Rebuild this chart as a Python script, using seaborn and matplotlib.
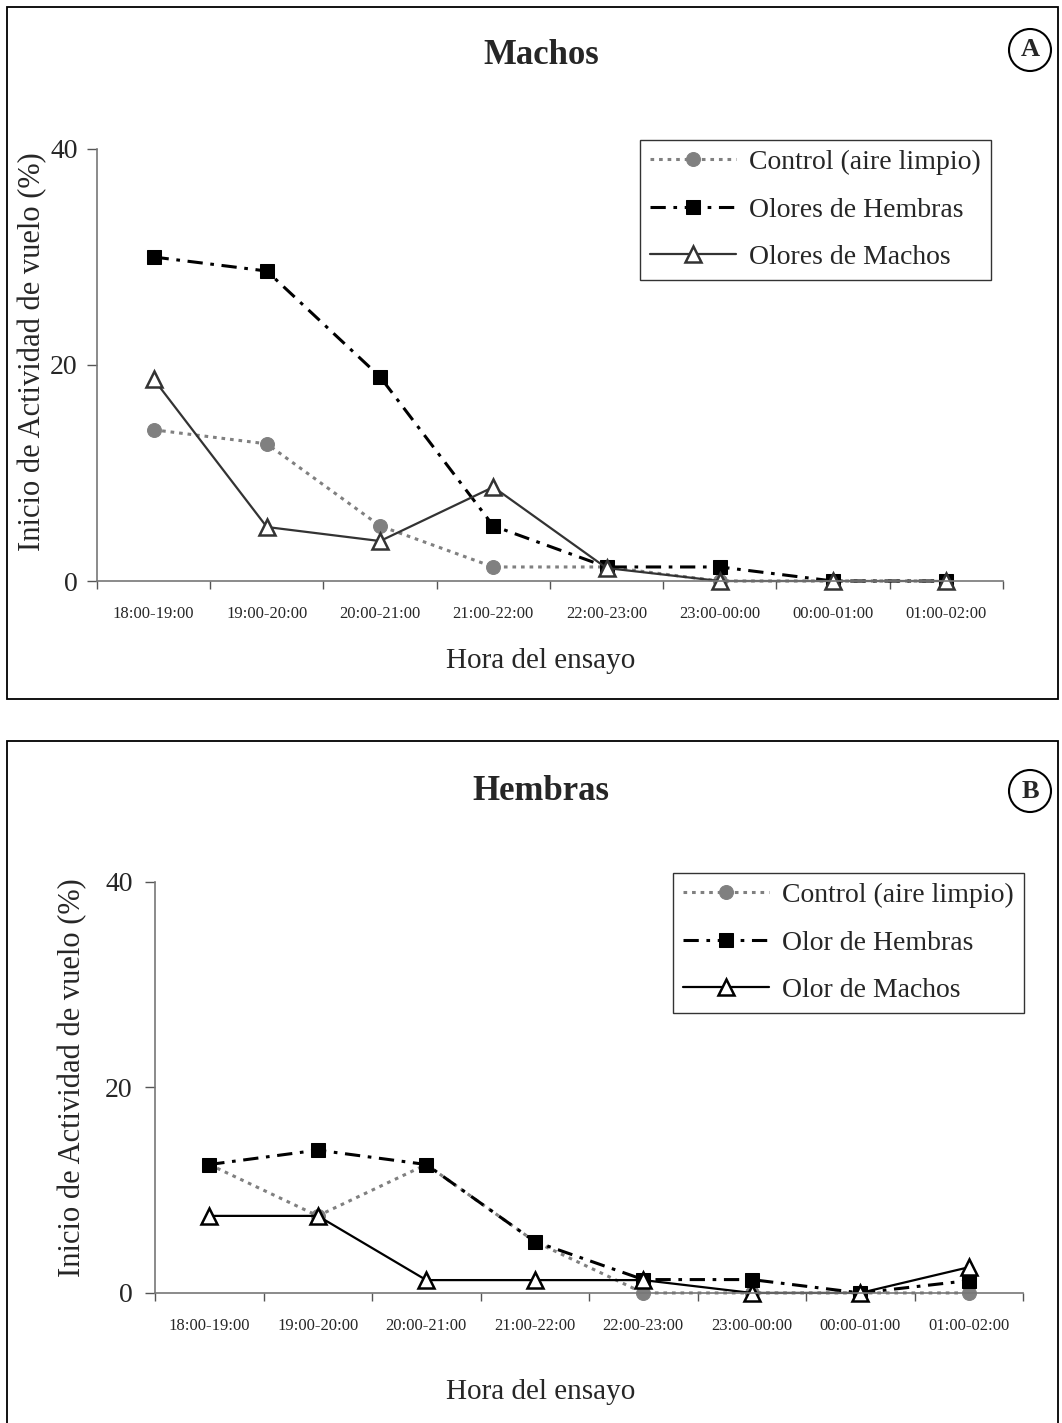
import matplotlib
matplotlib.use("Agg")
import matplotlib.pyplot as plt
import matplotlib.patches as mpatches
import seaborn as sns

# data
hours = ["18:00-19:00", "19:00-20:00", "20:00-21:00", "21:00-22:00",
         "22:00-23:00", "23:00-00:00", "00:00-01:00", "01:00-02:00"]

a_control = [14.0, 12.7, 5.1, 1.3, 1.3, 0, 0, 0]
a_hembras = [30.0, 28.7, 18.9, 5.1, 1.3, 1.3, 0, 0]
a_machos = [18.7, 5.0, 3.7, 8.7, 1.2, 0, 0, 0]

b_control = [12.5, 7.5, 12.5, 5.0, 0, 0, 0, 0]
b_hembras = [12.5, 13.9, 12.5, 5.0, 1.3, 1.3, 0, 1.2]
b_machos = [7.5, 7.5, 1.25, 1.25, 1.25, 0, 0, 2.5]

y_ticks = [0, 20, 40]

sns.set_style("ticks")
plt.rcParams['font.family'] = ['Liberation Serif', 'DejaVu Serif']

fig = plt.figure(figsize=(10.62, 14.23), dpi=100)

# panel frames
for (x0, y0, w, h) in [(0.0066, 0.5088, 0.9896, 0.4863), (0.0066, -0.02, 0.9896, 0.4993)]:
    fig.patches.append(mpatches.Rectangle((x0, y0), w, h, transform=fig.transFigure,
                                          fill=False, ec="black", lw=1.3))

axA = fig.add_axes([0.0913, 0.5917, 0.8531, 0.3036])
axB = fig.add_axes([0.1460, 0.0914, 0.8173, 0.2888])


def draw(ax, control, hembras, machos, labels, machos_col, ysize, ypad):
    sns.lineplot(x=hours, y=control, ax=ax, sort=False, color="#808080",
                 linestyle=(0, (1.2, 1.6)), lw=2.2, marker="o", markersize=10,
                 markeredgecolor="#808080", markerfacecolor="#808080",
                 clip_on=False, label=labels[0])
    sns.lineplot(x=hours, y=hembras, ax=ax, sort=False, color="black",
                 linestyle=(0, (5, 2.5, 1.2, 2.5)), lw=2.2, marker="s", markersize=10,
                 markeredgecolor="black", markerfacecolor="black",
                 clip_on=False, label=labels[1])
    sns.lineplot(x=hours, y=machos, ax=ax, sort=False, color=machos_col,
                 linestyle="-", lw=1.6, marker="^", markersize=11,
                 markeredgecolor=machos_col, markerfacecolor="white", markeredgewidth=1.8,
                 clip_on=False, label=labels[2])
    ax.set_xlim(-0.5, len(hours) - 0.5)
    ax.set_ylim(0, 40)
    ax.set_yticks(y_ticks)
    ax.set_xticks([i - 0.5 for i in range(len(hours) + 1)], minor=True)
    ax.tick_params(axis="x", which="major", length=0, pad=18, labelsize=12)
    ax.tick_params(axis="x", which="minor", length=6, color="#555555", width=1)
    ax.tick_params(axis="y", length=7, color="#555555", labelsize=ysize, width=1, pad=ypad)
    for s in ["top", "right"]:
        ax.spines[s].set_visible(False)
    for s in ["left", "bottom"]:
        ax.spines[s].set_color("#777777")
        ax.spines[s].set_linewidth(1.2)
    ax.set_xlabel("")
    ax.set_ylabel("")


draw(axA, a_control, a_hembras, a_machos,
     ["Control (aire limpio)", "Olores de Hembras", "Olores de Machos"], "#333333", 20, 7)
draw(axB, b_control, b_hembras, b_machos,
     ["Control (aire limpio)", "Olor de Hembras", "Olor de Machos"], "black", 20, 9)

for ax, anchor in [(axA, (0.6026, 0.9016)), (axB, (0.6337, 0.3865))]:
    leg = ax.legend(loc="upper left", bbox_to_anchor=anchor, bbox_transform=fig.transFigure,
                    fontsize=20, frameon=True, fancybox=False, edgecolor="#333333",
                    handlelength=3.1, handletextpad=0.48, labelspacing=0.79,
                    borderpad=0.35, borderaxespad=0)
    leg.get_frame().set_linewidth(1.0)
    leg.get_frame().set_alpha(1)

# titles, letters, axis labels
fig.text(0.5094, 1 - 56 / 1423, "Machos", ha="center", va="center", fontsize=25, fontweight="bold")
fig.text(0.5094, 1 - 791 / 1423, "Hembras", ha="center", va="center", fontsize=25, fontweight="bold")
for y, letter in [(50, "A"), (791, "B")]:
    fig.text(1030 / 1062, 1 - y / 1423, letter, ha="center", va="center", fontsize=19,
             fontweight="bold", bbox=dict(boxstyle="circle,pad=0.36", fc="white", ec="black", lw=1.5))

fig.text(541 / 1062, 1 - 661 / 1423, "Hora del ensayo", ha="center", va="center", fontsize=21)
fig.text(541 / 1062, 1 - 1392 / 1423, "Hora del ensayo", ha="center", va="center", fontsize=21)
fig.text(33 / 1062, 1 - 352 / 1423, "Inicio de Actividad de vuelo (%)", rotation=90,
         ha="center", va="center", fontsize=22)
fig.text(73 / 1062, 1 - 1078 / 1423, "Inicio de Actividad de vuelo (%)", rotation=90,
         ha="center", va="center", fontsize=22)

fig.savefig("out.png", dpi=100)
